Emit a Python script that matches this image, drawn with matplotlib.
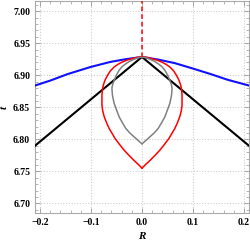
import matplotlib.pyplot as plt
from matplotlib.ticker import MultipleLocator

# values
blue_R = [-0.21, -0.179, -0.147, -0.1008, -0.0624, -0.033, 0.0, 0.0318, 0.0643, 0.1, 0.1359, 0.168, 0.21]
blue_t = [6.8840, 6.8920, 6.9016, 6.9130, 6.9208, 6.9250, 6.9286, 6.9245, 6.9190, 6.9105, 6.9016, 6.8930, 6.8840]

black_R = [-0.21, 0.0, 0.21]
black_t = [6.790, 6.9286, 6.790]

# right half of the closed curves (top -> bottom), mirrored for the left half
red_R = [0.0, 0.0100, 0.0189, 0.0290, 0.0384, 0.0470, 0.0546, 0.0620, 0.0676, 0.0725, 0.0760, 0.0779,
         0.0786, 0.0786, 0.0770, 0.0740, 0.0695, 0.0643, 0.0585, 0.0526, 0.0440, 0.0350, 0.0255, 0.0156, 0.0075, 0.0]
red_t = [6.9286, 6.9280, 6.9260, 6.9238, 6.9208, 6.9172, 6.9130, 6.9070, 6.9000, 6.8925, 6.8844, 6.8765,
         6.8690, 6.8530, 6.8440, 6.8350, 6.8258, 6.8167, 6.8090, 6.8010, 6.7920, 6.7830, 6.7750, 6.7670, 6.7610, 6.7550]

gray_R = [0.0, 0.0080, 0.0156, 0.0240, 0.0318, 0.0390, 0.0448, 0.0505, 0.0546, 0.0575, 0.0590, 0.0585,
          0.0578, 0.0546, 0.0500, 0.0448, 0.0385, 0.0318, 0.0240, 0.0156, 0.0080, 0.0]
gray_t = [6.9286, 6.9273, 6.9250, 6.9220, 6.9180, 6.9135, 6.9080, 6.9000, 6.8920, 6.8860, 6.8800, 6.8740,
          6.8680, 6.8560, 6.8460, 6.8350, 6.8260, 6.8170, 6.8100, 6.8040, 6.7985, 6.7930]

dash_R = [0.0, 0.0]
dash_t = [6.9286, 7.02]

plt.rcParams["font.family"] = "Liberation Serif"
plt.rcParams["font.weight"] = "bold"

fig = plt.figure(figsize=(2.51, 2.44), dpi=100)
ax = fig.add_axes([0.1394, 0.127, 0.8526, 0.869])

ax.grid(True, which="major", color="#cfcfcf", linestyle=(0, (1, 1.5)), linewidth=0.8)

ax.plot(blue_R, blue_t, color="#1010ff", lw=1.5, zorder=3)
ax.plot(black_R, black_t, color="black", lw=1.5, zorder=3)
ax.plot(red_R, red_t, color="red", lw=1.1, zorder=3)
ax.plot([-r for r in red_R], red_t, color="red", lw=1.1, zorder=3)
ax.plot(gray_R, gray_t, color="gray", lw=1.1, zorder=3)
ax.plot([-r for r in gray_R], gray_t, color="gray", lw=1.1, zorder=3)
ax.plot(dash_R, dash_t, color="red", lw=1.1, linestyle=(0, (3, 2)), zorder=3)

ax.set_xlim(-0.21, 0.21)
ax.set_ylim(6.685, 7.016)
ax.xaxis.set_minor_locator(MultipleLocator(0.02))
ax.yaxis.set_minor_locator(MultipleLocator(0.01))
ax.set_xticks([-0.2, -0.1, 0.0, 0.1, 0.2])
ax.set_xticklabels(["\u22120.2", "\u22120.1", "0.0", "0.1", "0.2"])
ax.set_yticks([6.70, 6.75, 6.80, 6.85, 6.90, 6.95, 7.00])
ax.set_yticklabels(["6.70", "6.75", "6.80", "6.85", "6.90", "6.95", "7.00"])

ax.tick_params(which="both", direction="in", top=True, right=True, color="#999999",
               labelsize=7, pad=3.5)
ax.tick_params(which="major", length=3.5, width=0.6)
ax.tick_params(which="minor", length=2, width=0.5)
for s in ax.spines.values():
    s.set_color("#aaaaaa")
    s.set_linewidth(0.8)

ax.set_xlabel("R", fontsize=8, style="italic", fontweight="bold")
ax.xaxis.set_label_coords(0.5, -0.088)
ax.set_ylabel("t", fontsize=8, style="italic", fontweight="bold", rotation=90)
ax.yaxis.set_label_coords(-0.125, 0.5)

fig.savefig("out.png", dpi=100)
